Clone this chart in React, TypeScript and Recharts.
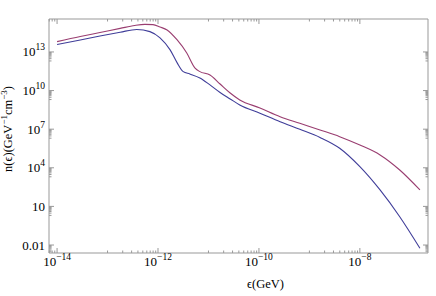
import { LineChart, Line, XAxis, YAxis, Label } from "recharts";

// log10 of energy (GeV) and density
const upperLogE = [-14.0, -13.54, -13.15, -12.75, -12.46, -12.26, -12.1, -11.96, -11.82, -11.62, -11.43, -11.27, -11.17, -10.97, -10.77, -10.57, -10.38, -9.98, -9.58, -9.19, -8.79, -8.4, -8.0, -7.6, -7.21, -6.81];
const upperLogN = [13.8, 14.2, 14.51, 14.83, 15.06, 15.14, 15.12, 14.94, 14.71, 13.93, 12.92, 11.76, 11.47, 11.21, 10.51, 9.81, 9.27, 8.65, 7.97, 7.46, 6.94, 6.42, 5.77, 5.0, 3.83, 2.28];

const lowerLogE = [-14.0, -13.54, -13.15, -12.75, -12.42, -12.16, -11.96, -11.76, -11.62, -11.5, -11.37, -11.17, -10.97, -10.77, -10.57, -10.38, -9.98, -9.58, -9.19, -8.79, -8.4, -8.0, -7.6, -7.21, -6.81];
const lowerLogN = [13.58, 13.93, 14.24, 14.53, 14.75, 14.58, 14.09, 13.16, 12.15, 11.47, 11.29, 10.98, 10.44, 9.85, 9.35, 8.88, 8.24, 7.58, 6.99, 6.36, 5.52, 4.09, 2.28, 0.2, -2.25];

const xMajorExp = [-14, -12, -10, -8];
const yMajorExp = [-2, 1, 4, 7, 10, 13];
const xDomain = [Math.pow(10, -14.16), Math.pow(10, -6.65)];
const yDomain = [Math.pow(10, -2.62), Math.pow(10, 15.56)];

const upper = upperLogE.map((e, i) => ({ e: Math.pow(10, e), n: Math.pow(10, upperLogN[i]) }));
const lower = lowerLogE.map((e, i) => ({ e: Math.pow(10, e), n: Math.pow(10, lowerLogN[i]) }));

const xMajors = xMajorExp.map((k) => Math.pow(10, k));
const yMajors = yMajorExp.map((k) => Math.pow(10, k));
const inX = (v: number) => v >= xDomain[0] && v <= xDomain[1];
const inY = (v: number) => v >= yDomain[0] && v <= yDomain[1];
const xMinors = xMajorExp.flatMap((k) => [1, 2, 3, 4, 5, 6, 7, 8, 9].map((m) => m * Math.pow(10, k - 1))).filter(inX);
const yMinors = yMajorExp.flatMap((k) => [2, 3, 4, 5, 6, 7, 8, 9].map((m) => m * Math.pow(10, k - 1))).filter(inY);
const xTicks = [...xMinors, ...xMajors];
const yTicks = [...yMinors, ...yMajors];

const frame = "#999";
const font = "'Liberation Serif', 'DejaVu Serif', serif";
const isMajor = (list: number[], v: number) => list.some((m) => Math.abs(m - v) / m < 1e-9);

function expLabel(v: number) {
  const k = Math.round(Math.log10(v));
  if (k === 1) return <tspan>10</tspan>;
  if (k === -2) return <tspan>0.01</tspan>;
  return (
    <>
      <tspan>10</tspan>
      <tspan dy={-6} fontSize={9.5}>{k < 0 ? "\u2212" + -k : String(k)}</tspan>
    </>
  );
}

function BottomTick(props: any) {
  const { x, y, payload } = props;
  const major = isMajor(xMajors, payload.value);
  return (
    <g>
      <line x1={x} x2={x} y1={y} y2={y - (major ? 5 : 2.5)} stroke={frame} />
      {major && (
        <text x={x} y={y + 13} textAnchor="middle" fontSize={13} fontFamily={font} fill="#000">
          {expLabel(payload.value)}
        </text>
      )}
    </g>
  );
}

function TopTick(props: any) {
  const { x, y, payload } = props;
  const major = isMajor(xMajors, payload.value);
  return <line x1={x} x2={x} y1={y} y2={y + (major ? 5 : 2.5)} stroke={frame} />;
}

function LeftTick(props: any) {
  const { x, y, payload } = props;
  const major = isMajor(yMajors, payload.value);
  return (
    <g>
      <line x1={x} x2={x + (major ? 5 : 2.5)} y1={y} y2={y} stroke={frame} />
      {major && (
        <text x={x - 4} y={y + 4.5} textAnchor="end" fontSize={13} fontFamily={font} fill="#000">
          {expLabel(payload.value)}
        </text>
      )}
    </g>
  );
}

function RightTick(props: any) {
  const { x, y, payload } = props;
  const major = isMajor(yMajors, payload.value);
  return <line x1={x} x2={x - (major ? 5 : 2.5)} y1={y} y2={y} stroke={frame} />;
}

function YTitle(props: any) {
  const vb = props.viewBox;
  const cx = vb.x + 12;
  const cy = vb.y + vb.height / 2 - 7;
  return (
    <text transform={`translate(${cx},${cy}) rotate(-90)`} textAnchor="middle" fontSize={12.5} fontFamily={font} fill="#000">
      <tspan>n(ϵ)(GeV</tspan>
      <tspan dy={-5} fontSize={9}>{"\u22121"}</tspan>
      <tspan dy={5}>cm</tspan>
      <tspan dy={-5} fontSize={9}>{"\u22123"}</tspan>
      <tspan dy={5}>)</tspan>
    </text>
  );
}

function XTitle(props: any) {
  const vb = props.viewBox;
  return (
    <text x={vb.x + vb.width / 2 + 27} y={vb.y + 35} textAnchor="middle" fontSize={12.5} fontFamily={font} fill="#000">
      ϵ(GeV)
    </text>
  );
}

export default function App() {
  return (
    <div style={{ position: "absolute", left: 0, top: 0, width: 436, height: 296, background: "#fff" }}>
      <LineChart width={436} height={296} margin={{ top: 18, right: 7, bottom: 0, left: 0 }}>
        <XAxis
          xAxisId="b"
          dataKey="e"
          type="number"
          scale="log"
          domain={xDomain}
          allowDataOverflow
          ticks={xTicks}
          interval={0}
          height={43}
          tickSize={0}
          tickMargin={0}
          tickLine={false}
          axisLine={{ stroke: frame }}
          tick={<BottomTick />}
        >
          <Label content={<XTitle />} />
        </XAxis>
        <XAxis
          xAxisId="t"
          orientation="top"
          dataKey="e"
          type="number"
          scale="log"
          domain={xDomain}
          allowDataOverflow
          ticks={xTicks}
          interval={0}
          height={1}
          tickSize={0}
          tickMargin={0}
          tickLine={false}
          axisLine={{ stroke: frame }}
          tick={<TopTick />}
        />
        <YAxis
          yAxisId="l"
          dataKey="n"
          type="number"
          scale="log"
          domain={yDomain}
          allowDataOverflow
          ticks={yTicks}
          interval={0}
          width={49}
          tickSize={0}
          tickMargin={0}
          tickLine={false}
          axisLine={{ stroke: frame }}
          tick={<LeftTick />}
        >
          <Label content={<YTitle />} />
        </YAxis>
        <YAxis
          yAxisId="r"
          orientation="right"
          dataKey="n"
          type="number"
          scale="log"
          domain={yDomain}
          allowDataOverflow
          ticks={yTicks}
          interval={0}
          width={1}
          tickSize={0}
          tickMargin={0}
          tickLine={false}
          axisLine={{ stroke: frame }}
          tick={<RightTick />}
        />
        <Line xAxisId="b" yAxisId="l" data={upper} dataKey="n" type="monotone" stroke="#993d70" strokeWidth={1.1} dot={false} isAnimationActive={false} />
        <Line xAxisId="b" yAxisId="l" data={lower} dataKey="n" type="monotone" stroke="#3f3d99" strokeWidth={1.1} dot={false} isAnimationActive={false} />
      </LineChart>
    </div>
  );
}
